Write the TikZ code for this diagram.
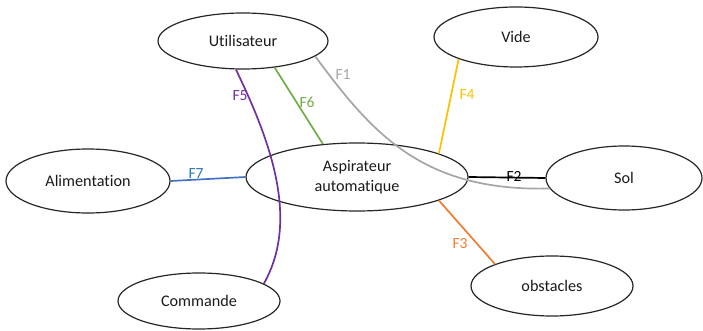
\documentclass[tikz,border=0pt]{standalone}
\usepackage{fontspec}
\setmainfont{Carlito}[Ligatures=NoCommon]
\usetikzlibrary{shapes.geometric}
\definecolor{inkc}{HTML}{262626}
\definecolor{txtc}{HTML}{1A1A1A}
\definecolor{cF1}{HTML}{A5A5A5}
\definecolor{cF3}{HTML}{ED7D31}
\definecolor{cF4}{HTML}{FFC000}
\definecolor{cF5}{HTML}{7030A0}
\definecolor{cF6}{HTML}{70AD47}
\definecolor{cF7}{HTML}{4472C4}
\definecolor{cF7t}{HTML}{2E75B6}
\tikzset{
  bubble/.style={ellipse, draw=inkc, line width=1.2pt, inner sep=0pt,
    text=txtc, align=center, font=\fontsize{16.2}{20}\selectfont},
  link/.style={line width=1.7pt},
  flabel/.style={inner sep=0pt, font=\fontsize{15.5}{18}\selectfont}
}
\begin{document}
\begin{tikzpicture}[x=1pt,y=-1pt]
\useasboundingbox (0,0) rectangle (703,331);

% actors around the vacuum robot
\node[bubble, minimum width=170pt, minimum height=56pt] (usr) at (243,41) {Utilisateur};
\node[bubble, minimum width=164pt, minimum height=60pt] (vide) at (516,37) {Vide};
\node[bubble, minimum width=222pt, minimum height=68pt] (asp) at (357,177) {Aspirateur\\automatique};
\node[bubble, minimum width=156pt, minimum height=64pt] (sol) at (624,178) {Sol};
\node[bubble, minimum width=164pt, minimum height=64pt] (alim) at (88,181) {Alimentation};
\node[bubble, minimum width=162pt, minimum height=56pt] (cmd) at (199,301) {Commande};
\node[bubble, minimum width=162pt, minimum height=60pt] (obs) at (552,286) {obstacles};

% functions
\draw[link, cF1] (usr.-12.8) .. controls (370,130) and (420,192) .. (sol.-172.3);
\draw[link, black] (asp.east) -- (sol.west);
\draw[link, cF3] (asp.-16.8) -- (obs.159.2);
\draw[link, cF4] (vide.-159.2) -- (asp.16.8);
\draw[link, cF5] (usr.-104) .. controls (270,140) and (300,220) .. (cmd.15);
\draw[link, cF6] (usr.-40) -- (asp.136);
\draw[link, cF7] (alim.east) -- (asp.west);

% function labels
\node[flabel, text=cF1] (l1) at (343,75) {F1};
\node[flabel, text=black] (l2) at (514,176) {F2};
\node[flabel, text=cF3] (l3) at (460,244) {F3};
\node[flabel, text=cF4] (l4) at (467,95) {F4};
\node[flabel, text=cF5] (l5) at (240,96) {F5};
\node[flabel, text=cF6] (l6) at (307,102) {F6};
\node[flabel, text=cF7t] (l7) at (196,174) {F7};
\end{tikzpicture}
\end{document}
